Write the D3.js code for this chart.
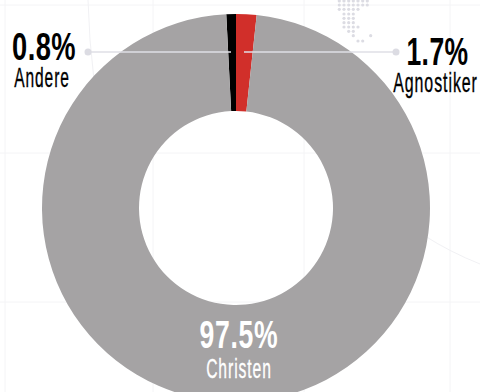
<!DOCTYPE html>
<html>
<head>
<meta charset="utf-8">
<script src="https://cdn.jsdelivr.net/npm/d3@7/dist/d3.min.js"></script>
<style>
html, body { margin: 0; padding: 0; background: #fff; }
svg { display: block; }
text { font-family: "Liberation Sans Narrow", "Liberation Sans", sans-serif; }
</style>
</head>
<body>
<script>
// Religious affiliation shares, drawn clockwise from the top.
const categories = ["Andere", "Agnostiker", "Christen"];
const shares = [0.8, 1.7, 97.5];
const sliceColors = ["#000000", "#d12f2a", "#a5a3a4"];
const shareLabels = ["0.8%", "1.7%", "97.5%"];

// Faint backdrop rules and the dotted map fragment behind the ring.
const ruleRows = [5, 153, 302];
const ruleColumns = [5, 153, 304, 450];
const mapDotColumns = [339.3, 344, 348.7, 353.3, 358, 362.7, 367.3, 370.7];
const mapDotTops = [1, 5, 9.3, 14, 18.3, 22.7, 27, 31.3, 35.7, 41];
const mapDotRows = [
  [0, 1, 2, 3, 4, 5, 6],
  [0, 1, 2, 3, 4, 5, 6],
  [0, 1, 2, 3, 4],
  [1, 2, 3],
  [1, 2, 3],
  [1, 2, 3],
  [1, 2, 3, 4],
  [2, 3],
  [3, 7],
  [4, 5]
];

const width = 480, height = 392;
const cx = 236, cy = 208, outerR = 194, innerR = 97;

const svg = d3.select("body").append("svg")
  .attr("width", width).attr("height", height);

const backdrop = svg.append("g");
backdrop.selectAll("line.row").data(ruleRows).join("line")
  .attr("class", "row")
  .attr("x1", 0).attr("x2", width)
  .attr("y1", d => d).attr("y2", d => d)
  .attr("stroke", "#f4f4f6");
backdrop.selectAll("line.col").data(ruleColumns).join("line")
  .attr("class", "col")
  .attr("x1", d => d).attr("x2", d => d)
  .attr("y1", 0).attr("y2", height)
  .attr("stroke", "#f4f4f6");
backdrop.append("path")
  .attr("d", "M88,0Q89,40 94,80M425,236Q450,252 480,264")
  .attr("fill", "none")
  .attr("stroke", "#f1f1f4");
mapDotRows.forEach((columns, i) => {
  backdrop.append("g").selectAll("circle").data(columns).join("circle")
    .attr("cx", d => mapDotColumns[d]).attr("cy", mapDotTops[i]).attr("r", 1.6)
    .attr("fill", "#dcdce3");
});

const pie = d3.pie().sort(null).value(d => d);
const arc = d3.arc().innerRadius(innerR).outerRadius(outerR);
// Rotating the start angle so the black and red slices meet at twelve o'clock.
const startAngle = -0.8 / 100 * 2 * Math.PI;
const arcs = pie.startAngle(startAngle).endAngle(startAngle + 2 * Math.PI)(shares);

svg.append("g").attr("transform", `translate(${cx},${cy})`)
  .selectAll("path").data(arcs).join("path")
  .attr("d", arc)
  .attr("fill", (d, i) => sliceColors[i]);

// Leader lines from each small slice out to its label.
const leaders = [
  { x1: 88, x2: 231 },
  { x1: 396, x2: 244 }
];
const leaderY = 52;
const leaderG = svg.append("g");
leaderG.selectAll("line").data(leaders).join("line")
  .attr("x1", d => d.x1).attr("x2", d => d.x2)
  .attr("y1", leaderY).attr("y2", leaderY)
  .attr("stroke", "#dfdfe6").attr("stroke-width", 1.3);
leaderG.selectAll("circle").data(leaders).join("circle")
  .attr("cx", d => d.x1).attr("cy", leaderY).attr("r", 3.5)
  .attr("fill", "#dcdce3");

// Labels are squeezed horizontally and tracked out for a tall condensed look.
function label(text, x, y, size, weight, fill, sx, tracking) {
  svg.append("text")
    .attr("transform", `translate(${x},${y}) scale(${sx},1)`)
    .attr("text-anchor", "middle")
    .attr("font-size", size)
    .attr("font-weight", weight)
    .attr("letter-spacing", tracking)
    .attr("stroke", fill)
    .attr("stroke-width", weight === 400 ? 0.35 : 0)
    .attr("fill", fill)
    .text(text);
}
label(shareLabels[0], 44, 60, 39, 700, "#000", 0.7, 0.6);
label(categories[0], 42, 87, 27, 400, "#000", 0.575, 1.6);
label(shareLabels[1], 437.5, 65, 39, 700, "#000", 0.68, 0.6);
label(categories[1], 435.5, 92, 27, 400, "#000", 0.59, 1.6);
label(shareLabels[2], 239, 348, 38, 700, "#fff", 0.7, 1);
label(categories[2], 239, 378, 27, 400, "#fff", 0.58, 1.6);
</script>
</body>
</html>
